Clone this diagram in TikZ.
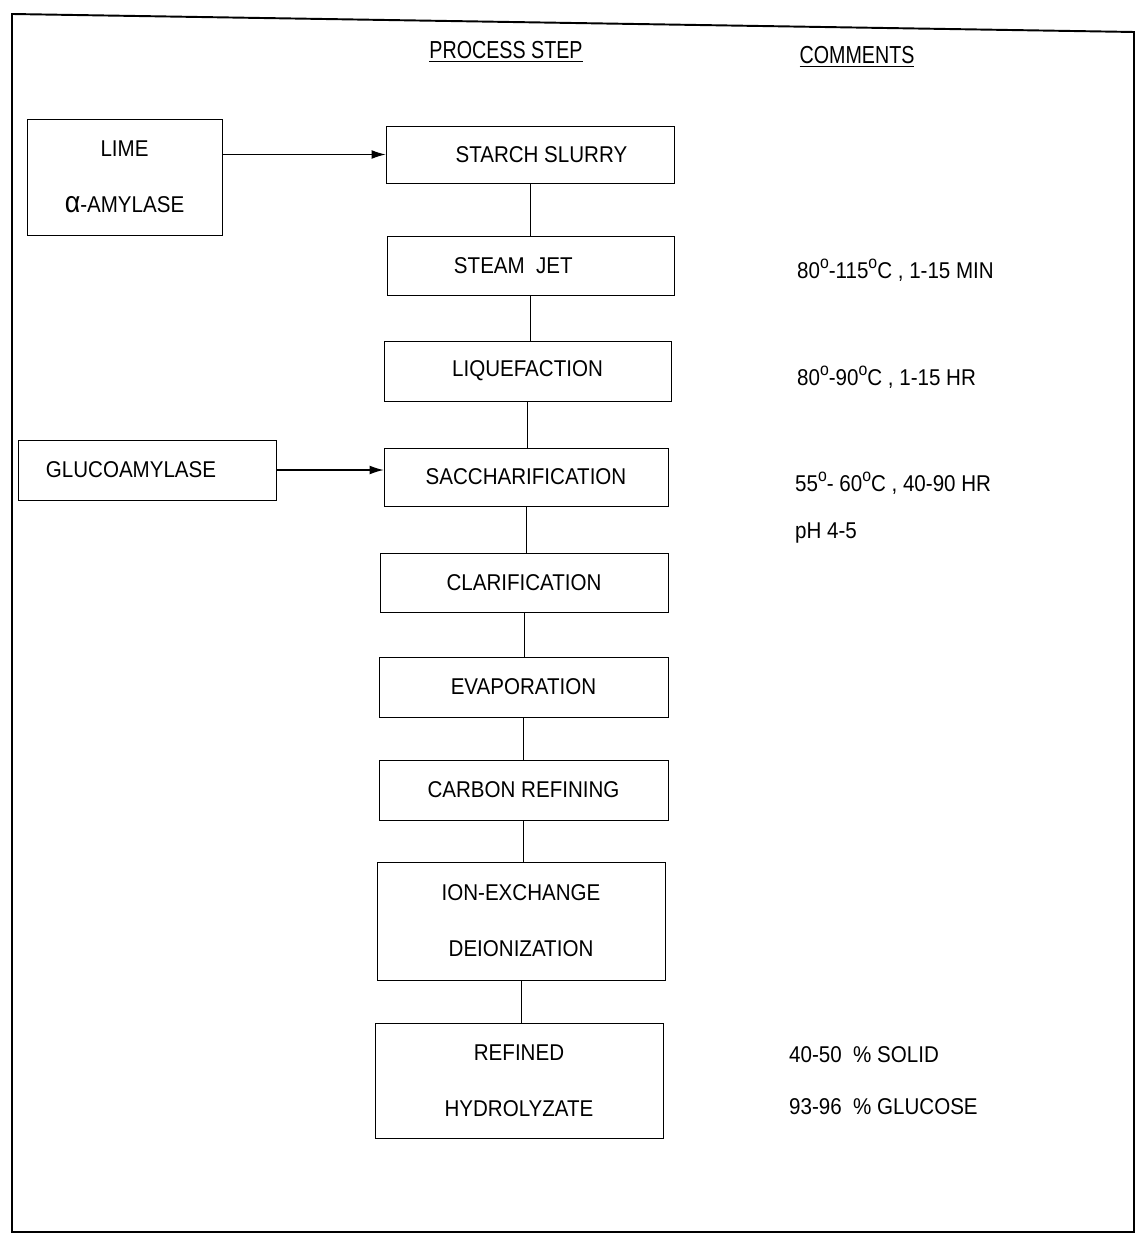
\documentclass[tikz,border=0pt]{standalone}
\usepackage{fontspec}
\setmainfont[FakeStretch=0.9]{Liberation Sans}
\newfontfamily\headfont[FakeStretch=0.8]{Liberation Sans}
\usetikzlibrary{positioning, arrows.meta}
\newcommand{\degsign}{\raisebox{0.45em}{\fontsize{10}{10}\selectfont o}}

\begin{document}
\begin{tikzpicture}[x=0.02cm, y=-0.02cm,
    stepbox/.style={rectangle, draw, thin, fill=white, inner sep=2pt,
        font=\fontsize{13}{32}\selectfont, align=center},
    comment/.style={anchor=west, font=\fontsize{13}{14}\selectfont},
    heading/.style={font=\headfont\fontsize{14}{16}\selectfont},
    link/.style={draw, thin},
    feed/.style={draw, semithick, -{Latex[length=8pt, width=5pt]}}]
    \useasboundingbox (0,0) rectangle (1138,1246);

    % Frame
    \draw[line width=1.1pt] (12,14) -- (1134,32) -- (1134,1232) -- (12,1232) -- cycle;

    % Headings
    \node[heading] (hstep) at (506,52) {\underline{PROCESS STEP}};
    \node[heading] (hcomm) at (857,57) {\underline{COMMENTS}};

    % Draw nodes
    \node[stepbox, minimum width=195*0.02cm, minimum height=116*0.02cm] (lime) at (124.5,177) {LIME\hspace{1.2em}\\{\fontsize{17}{17}\selectfont α}-AMYLASE};
    \node[stepbox, minimum width=258*0.02cm, minimum height=60*0.02cm] (gluco) at (147,470) {GLUCOAMYLASE\hspace{1.4em}};

    \node[stepbox, minimum width=288*0.02cm, minimum height=57*0.02cm] (slurry) at (530,154.5) {\hspace{1em}STARCH SLURRY};
    \node[stepbox, minimum width=287*0.02cm, minimum height=59*0.02cm] (jet) at (530.5,265.5) {STEAM\ \ JET\hspace{1.5em}};
    \node[stepbox, minimum width=287*0.02cm, minimum height=60*0.02cm] (liq) at (527.5,371) {LIQUEFACTION};
    \node[stepbox, minimum width=284*0.02cm, minimum height=58*0.02cm] (sacch) at (526,477) {SACCHARIFICATION};
    \node[stepbox, minimum width=288*0.02cm, minimum height=59*0.02cm] (clar) at (524,582.5) {CLARIFICATION};
    \node[stepbox, minimum width=289*0.02cm, minimum height=60*0.02cm] (evap) at (523.5,687) {EVAPORATION};
    \node[stepbox, minimum width=289*0.02cm, minimum height=60*0.02cm] (carbon) at (523.5,790) {CARBON REFINING};
    \node[stepbox, minimum width=288*0.02cm, minimum height=118*0.02cm] (ion) at (521,921) {ION-EXCHANGE\\DEIONIZATION};
    \node[stepbox, minimum width=288*0.02cm, minimum height=115*0.02cm] (refined) at (519,1080.5) {REFINED\\HYDROLYZATE};

    % Draw connections
    \draw[feed] (lime.east |- slurry) -- (slurry.west);
    \draw[feed] (gluco.east) -- (gluco.east -| sacch.west);
    \draw[link] (slurry.south) -- (slurry.south |- jet.north);
    \draw[link] (jet.south) -- (jet.south |- liq.north);
    \draw[link] (liq.south) -- (liq.south |- sacch.north);
    \draw[link] (sacch.south) -- (sacch.south |- clar.north);
    \draw[link] (clar.south) -- (clar.south |- evap.north);
    \draw[link] (evap.south) -- (evap.south |- carbon.north);
    \draw[link] (carbon.south) -- (carbon.south |- ion.north);
    \draw[link] (ion.south) -- (ion.south |- refined.north);

    % Comments
    \node[comment] (cjet) at (791,270) {80\degsign-115\degsign C , 1-15 MIN};
    \node[comment] (cliq) at (791,377) {80\degsign-90\degsign C , 1-15 HR};
    \node[comment] (csacch) at (789,483) {55\degsign- 60\degsign C , 40-90 HR};
    \node[comment] (cph) at (789,533) {pH 4-5};
    \node[comment] (csolid) at (783,1055) {40-50\ \ \%\ SOLID};
    \node[comment] (cgluc) at (783,1107) {93-96\ \ \%\ GLUCOSE};
\end{tikzpicture}
\end{document}
